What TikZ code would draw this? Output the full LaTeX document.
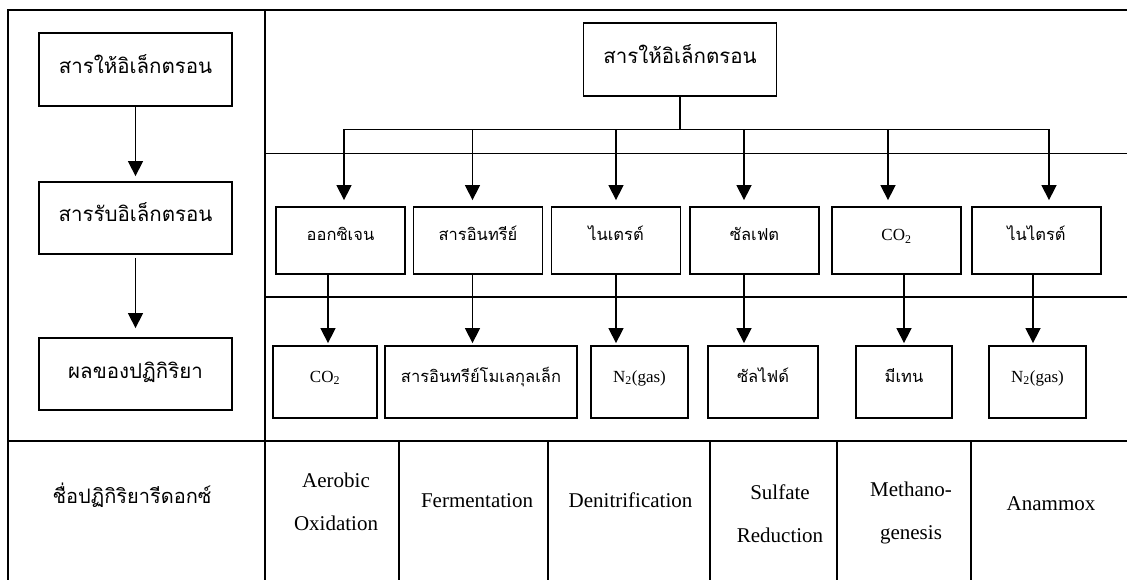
\documentclass[tikz,border=0pt]{standalone}
\usepackage{fontspec}
\setmainfont{Liberation Serif}
\newfontfamily\thai[Script=Thai]{Loma}
\usetikzlibrary{arrows.meta}
\begin{document}
\begin{tikzpicture}[x=1pt,y=-1pt,
  grid/.style={line width=1.8pt},
  box/.style={draw,line width=1.8pt,inner sep=0pt,align=center},
  bigbox/.style={box,font=\thai\fontsize{20.5}{24}\selectfont,text height=10pt,text depth=2pt,minimum height=72pt},
  smbox/.style={box,font=\thai\fontsize{16.5}{20}\selectfont,text height=6pt,text depth=6pt},
  latbox/.style={font=\fontsize{17}{20}\selectfont},
  arr/.style={line width=1.5pt,-{Triangle[width=15pt,length=15pt]}},
  ln/.style={line width=1.5pt},
  tbl/.style={font=\fontsize{21}{43}\selectfont,align=center,anchor=base},
]
\useasboundingbox (0,0) rectangle (1127,580);
% frame
\draw[grid] (1127,10) -- (8,10) -- (8,580);
\draw[grid,line width=2pt] (264.5,10) -- (264.5,580);
\draw[grid] (264,153.5) -- (1127,153.5);
\draw[grid] (264,297) -- (1127,297);
\draw[grid] (8,441) -- (1127,441);
\foreach \x in {399,548,710,837,971} \draw[grid] (\x,441) -- (\x,580);
% left column
\node[bigbox,minimum width=193pt,minimum height=73pt] (L1) at (135.5,69.5) {สารให้อิเล็กตรอน};
\node[bigbox,minimum width=193pt] (L2) at (135.5,218) {สารรับอิเล็กตรอน};
\node[bigbox,minimum width=193pt] (L3) at (135.5,374) {ผลของปฏิกิริยา};
\draw[arr,shorten >=5pt] (L1) -- (L2);
\draw[arr,shorten <=3pt,shorten >=9pt] (L2) -- (L3);
% top
\node[bigbox,minimum width=193pt,minimum height=73pt] (T) at (680,59.5) {สารให้อิเล็กตรอน};
% middle row
\begin{scope}[every node/.style={smbox,minimum width=129pt,minimum height=67pt}]
\node (m1) at (340.5,240.5) {ออกซิเจน};
\node (m2) at (478,240.5) {สารอินทรีย์};
\node (m3) at (616,240.5) {ไนเตรต์};
\node (m4) at (754.5,240.5) {ซัลเฟต};
\node[latbox] (m5) at (896.5,240.5) {CO\textsubscript{2}};
\node (m6) at (1036.5,240.5) {ไนไตรต์};
\end{scope}
% bottom row
\begin{scope}[every node/.style={smbox,minimum height=72pt}]
\node[latbox,minimum width=104pt] (b1) at (325,382) {CO\textsubscript{2}};
\node[minimum width=192pt] (b2) at (481,382) {สารอินทรีย์โมเลกุลเล็ก};
\node[latbox,minimum width=97pt] (b3) at (639.5,382) {N\textsubscript{2}(gas)};
\node[minimum width=110.5pt] (b4) at (763,382) {ซัลไฟด์};
\node[minimum width=96pt] (b5) at (904,382) {มีเทน};
\node[latbox,minimum width=97pt] (b6) at (1037.5,382) {N\textsubscript{2}(gas)};
\end{scope}
% branch
\coordinate (bar) at (680,129.5);
\foreach \i/\x in {1/344,2/472.5,3/616,4/744,5/888,6/1049} \coordinate (p\i) at (\x,0);
\foreach \i/\x in {1/328,2/472.5,3/616,4/744,5/904,6/1033} \coordinate (q\i) at (\x,0);
\draw[ln] (T.south) -- (bar);
\draw[ln] (bar -| p1) -- (bar -| p6);
\foreach \i in {1,...,6} {
  \draw[arr,shorten >=6pt] (bar -| p\i) -- (m\i.north -| p\i);
  \draw[arr,shorten >=2pt] (m\i.south -| q\i) -- (b\i.north -| q\i);
}
% table
\node[tbl,font=\thai\fontsize{20}{24}\selectfont] (t0) at (132,503) {ชื่อปฏิกิริยารีดอกซ์};
\node[tbl] (t1) at (336,530) {Aerobic\\Oxidation};
\node[tbl] (t2) at (477,507) {Fermentation};
\node[tbl] (t3) at (630.5,507) {Denitrification};
\node[tbl] (t4) at (780,542) {Sulfate\\Reduction};
\node[tbl] (t5) at (911,539) {Methano-\\genesis};
\node[tbl] (t6) at (1051,510) {Anammox};
\end{tikzpicture}
\end{document}
